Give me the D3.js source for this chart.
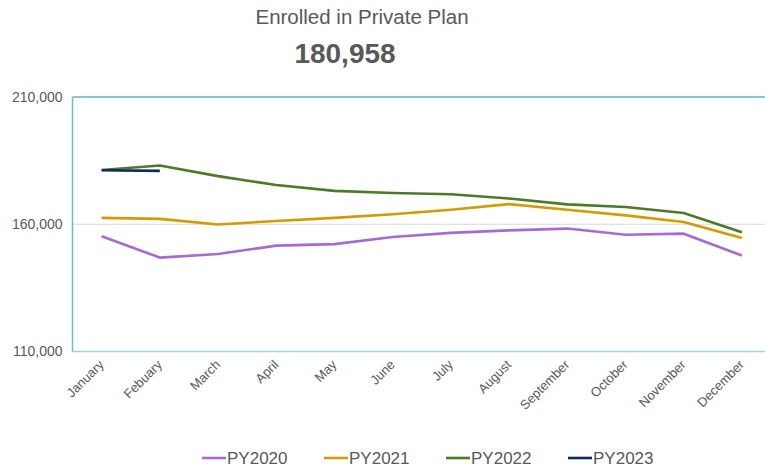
<!DOCTYPE html>
<html><head><meta charset="utf-8">
<script src="https://cdn.jsdelivr.net/npm/d3@7"></script>
<style>body{margin:0;background:#fff;}svg{display:block;font-family:"Liberation Sans",Arial,sans-serif;}</style>
</head><body>
<svg id="c" width="765" height="469"></svg>
<script>
const months = ["January","Febuary","March","April","May","June","July","August","September","October","November","December"];
const py2020 = [155300,146900,148300,151600,152200,155000,156600,157600,158300,155900,156300,147700];
const py2021 = [162500,162100,159900,161300,162500,163900,165700,167900,165700,163500,160900,154600];
const py2022 = [181300,183100,178900,175400,173100,172300,171800,170100,167800,166800,164400,156900];
const py2023 = [181200,180958];
const yTicks = [110000,160000,210000];
const seriesNames = ["PY2020","PY2021","PY2022","PY2023"];
const seriesColors = ["#A66BD3","#D49B00","#4E7A27","#0C2C5E"];
const seriesData = [py2020,py2021,py2022,py2023];
const titleText = "Enrolled in Private Plan";
const headline = "180,958";

const svg = d3.select("#c");
const L=72.5, R=771, T=97, B=351.5;
const x = d3.scaleBand().domain(months).range([L,R]).padding(0);
const y = d3.scaleLinear().domain([110000,210000]).range([B,T]);
const FF = "Liberation Sans, Arial, sans-serif";

svg.append("text").attr("x",362).attr("y",24).attr("text-anchor","middle")
  .attr("font-size",20.5).attr("fill","#595959").text(titleText);
svg.append("text").attr("x",345).attr("y",63).attr("text-anchor","middle")
  .attr("font-size",28).attr("font-weight","bold").attr("fill","#595959").text(headline);

// gridline
svg.append("g").selectAll("line").data(yTicks.filter(d=>d!==110000&&d!==210000)).join("line")
  .attr("x1",L).attr("x2",R).attr("y1",d=>y(d)).attr("y2",d=>y(d))
  .attr("stroke","#d9d9d9").attr("stroke-width",1);

// borders
svg.append("line").attr("x1",L).attr("x2",R).attr("y1",B).attr("y2",B).attr("stroke","#A8CFD9").attr("stroke-width",1.5);
svg.append("line").attr("x1",L).attr("x2",R).attr("y1",T).attr("y2",T).attr("stroke","#5AB4CB").attr("stroke-width",1.5);
svg.append("line").attr("x1",L).attr("x2",L).attr("y1",T).attr("y2",B).attr("stroke","#6BBCD0").attr("stroke-width",1.5);

// y axis labels
const yAxis = d3.axisLeft(y).tickValues(yTicks).tickSize(0).tickPadding(10).tickFormat(d3.format(","));
const ga = svg.append("g").attr("transform",`translate(${L},0)`).call(yAxis);
ga.select(".domain").remove();
ga.attr("font-family",FF).attr("font-size",14);
ga.selectAll("text").attr("fill","#595959");

// x axis labels
const xAxis = d3.axisBottom(x).tickSize(0).tickPadding(0);
const gx = svg.append("g").attr("transform",`translate(0,${B})`).call(xAxis);
gx.select(".domain").remove();
gx.attr("font-family",FF).attr("font-size",13);
gx.selectAll("text").attr("fill","#595959")
  .attr("text-anchor","end").attr("dy",null).attr("y",0)
  .attr("transform","translate(3,14) rotate(-45)");

// lines
const line = d3.line().x((d,i)=>x(months[i])+x.bandwidth()/2).y(d=>y(d));
seriesData.forEach((s,k)=>{
  svg.append("path").datum(s).attr("d",line).attr("fill","none")
    .attr("stroke",seriesColors[k]).attr("stroke-width",2.6).attr("stroke-linejoin","round");
});

// legend
const legX = [202,324,446,568];
const lg = svg.append("g");
seriesNames.forEach((n,k)=>{
  lg.append("line").attr("x1",legX[k]).attr("x2",legX[k]+24).attr("y1",458).attr("y2",458)
    .attr("stroke",seriesColors[k]).attr("stroke-width",2.6);
  lg.append("text").attr("x",legX[k]+25).attr("y",464).attr("font-size",17).attr("fill","#595959").text(n);
});
</script>
</body></html>
